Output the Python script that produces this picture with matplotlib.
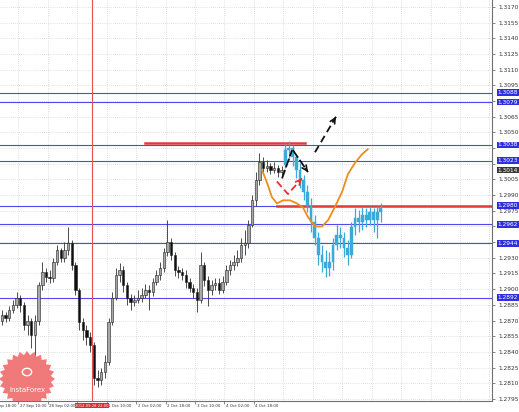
import numpy as np
import matplotlib
matplotlib.use("Agg")
import matplotlib.pyplot as plt
from matplotlib.patches import Rectangle, Polygon, Circle

# ---------------- data ----------------
first_open = 1.2870
closes = [1.2875, 1.2872, 1.2880, 1.2885, 1.2892, 1.2885, 1.2866, 1.2870, 1.2856, 1.2870,
          1.2904, 1.2916, 1.2912, 1.2911, 1.2926, 1.2937, 1.2930, 1.2937, 1.2944, 1.2923,
          1.2899, 1.2869, 1.2861, 1.2854, 1.2847, 1.2815, 1.2813, 1.2821, 1.2830, 1.2869,
          1.2892, 1.2914, 1.2918, 1.2904, 1.2892, 1.2888, 1.2890, 1.2892, 1.2894, 1.2899,
          1.2897, 1.2907, 1.2914, 1.2920, 1.2936, 1.2945, 1.2933, 1.2918, 1.2916, 1.2914,
          1.2907, 1.2901, 1.2897, 1.2890, 1.2923, 1.2909, 1.2899, 1.2904, 1.2906, 1.2899,
          1.2907, 1.2918, 1.2923, 1.2926, 1.2930, 1.2942, 1.2944, 1.2961, 1.2985, 1.3004,
          1.3022, 1.3016, 1.3018, 1.3014, 1.3016, 1.3012, 1.3014]
highs = [1.2880, 1.2878, 1.2884, 1.2890, 1.2897, 1.2894, 1.2888, 1.2875, 1.2872, 1.2875,
         1.2907, 1.2926, 1.2920, 1.2918, 1.2930, 1.2942, 1.2939, 1.2945, 1.2959, 1.2947,
         1.2926, 1.2901, 1.2872, 1.2866, 1.2859, 1.2849, 1.2823, 1.2825, 1.2837, 1.2872,
         1.2897, 1.2920, 1.2925, 1.2922, 1.2907, 1.2895, 1.2894, 1.2899, 1.2901, 1.2905,
         1.2904, 1.2911, 1.2918, 1.2926, 1.2939, 1.2966, 1.2949, 1.2936, 1.2922, 1.2920,
         1.2918, 1.2911, 1.2905, 1.2901, 1.2936, 1.2926, 1.2913, 1.2909, 1.2911, 1.2911,
         1.2913, 1.2923, 1.2928, 1.2933, 1.2937, 1.2949, 1.2957, 1.2966, 1.2990, 1.3012,
         1.3030, 1.3026, 1.3024, 1.3021, 1.3022, 1.3019, 1.3018]
lows = [1.2866, 1.2869, 1.2870, 1.2877, 1.2882, 1.2878, 1.2861, 1.2856, 1.2844, 1.2835,
        1.2866, 1.2899, 1.2907, 1.2906, 1.2907, 1.2923, 1.2926, 1.2926, 1.2933, 1.2918,
        1.2894, 1.2861, 1.2851, 1.2847, 1.2840, 1.2808, 1.2806, 1.2808, 1.2815, 1.2827,
        1.2866, 1.2890, 1.2907, 1.2897, 1.2885, 1.2880, 1.2884, 1.2887, 1.2888, 1.2892,
        1.2880, 1.2893, 1.2904, 1.2909, 1.2916, 1.2932, 1.2928, 1.2913, 1.2911, 1.2909,
        1.2901, 1.2897, 1.2892, 1.2878, 1.2887, 1.2903, 1.2884, 1.2894, 1.2899, 1.2895,
        1.2896, 1.2904, 1.2914, 1.2918, 1.2922, 1.2926, 1.2933, 1.2939, 1.2959, 1.2980,
        1.3000, 1.3012, 1.3012, 1.3010, 1.3011, 1.3007, 1.3009]

# forecast (cyan) bars
fc_open0 = 1.3019
fc_close = [1.3033, 1.3035, 1.3026, 1.3014, 1.3004, 1.2993, 1.2980, 1.2964, 1.2949, 1.2933,
            1.2926, 1.2920, 1.2926, 1.2942, 1.2952, 1.2949, 1.2939, 1.2933, 1.2959, 1.2968,
            1.2964, 1.2971, 1.2966, 1.2974, 1.2966, 1.2974, 1.2978]
fc_high = [1.3040, 1.3042, 1.3038, 1.3028, 1.3021, 1.3009, 1.3000, 1.2987, 1.2971, 1.2955,
           1.2942, 1.2937, 1.2936, 1.2949, 1.2961, 1.2959, 1.2955, 1.2947, 1.2964, 1.2978,
           1.2976, 1.2979, 1.2978, 1.2980, 1.2978, 1.2980, 1.2982]
fc_low = [1.3016, 1.3024, 1.3018, 1.3006, 1.2997, 1.2985, 1.2974, 1.2955, 1.2942, 1.2923,
          1.2916, 1.2912, 1.2913, 1.2918, 1.2937, 1.2939, 1.2931, 1.2923, 1.2930, 1.2952,
          1.2955, 1.2957, 1.2959, 1.2961, 1.2955, 1.2949, 1.2964]

# orange curve
ma_x = [142.4, 145.1, 147.8, 150.5, 153.8, 157.6, 161.4, 164.7, 167.4, 171.2, 175.0,
        178.3, 182.1, 185.9, 189.1, 193.0, 196.7, 200.0]
ma_y = [1.3014, 1.3002, 1.2988, 1.2982, 1.2985, 1.2985, 1.2982, 1.2978, 1.2969, 1.2960,
        1.2960, 1.2966, 1.2979, 1.2993, 1.3010, 1.3021, 1.3029, 1.3034]

blue_levels = [1.3088, 1.3079, 1.3038, 1.3023, 1.2980, 1.2962, 1.2944, 1.2892]
red_upper = 1.3040
red_upper_x = (78.8, 165.8)
red_lower = 1.2980
red_lower_x = (150.5, 268.0)
current_price = 1.3014

black_arrow_pts = [(153.3, 1.3006), (158.7, 1.3033), (159.2, 1.3033), (167.4, 1.3012)]
black_dash_arrow = [(171.2, 1.3031), (182.6, 1.3065)]
red_arrow_pts = [(150.5, 1.3003), (156.5, 1.2991), (164.1, 1.3006)]

price_ticks = [1.3170, 1.3155, 1.3140, 1.3125, 1.3110, 1.3095, 1.3080, 1.3065, 1.3050,
               1.3035, 1.3020, 1.3005, 1.2990, 1.2975, 1.2960, 1.2945, 1.2930, 1.2915,
               1.2900, 1.2885, 1.2870, 1.2855, 1.2840, 1.2825, 1.2810, 1.2795]
time_pos = [-6, 10, 26, 42, 58, 74, 90, 106, 122, 138]
time_labels = ["26 Sep 18:00", "27 Sep 10:00", "28 Sep 02:00", "",
               "1 Oct 10:00", "2 Oct 02:00", "2 Oct 18:00", "3 Oct 10:00",
               "4 Oct 02:00", "4 Oct 18:00"]
cursor_x = 50
cursor_label = "2012.09.28 22:00"

# ---------------- figure ----------------
W, H = 519, 412
fig = plt.figure(figsize=(W / 100, H / 100), dpi=100)
fig.patch.set_facecolor("white")
ax = fig.add_axes([0, 11 / H, 492 / W, 401 / H])
ax.set_xlim(0, 267.4)
ax.set_ylim(1.31767 - 401 / 10450, 1.31767)

# grid
for p in price_ticks:
    ax.axhline(p, color="#c4c4c4", lw=0.5, ls=(0, (1, 2)), zorder=0)
for gx in np.arange(10, 268, 16):
    ax.axvline(gx, color="#c4c4c4", lw=0.5, ls=(0, (1, 2)), zorder=0)

# levels
for lv in blue_levels:
    ax.axhline(lv, color="#4a4af0", lw=0.8, zorder=2)
ax.plot(red_upper_x, [red_upper, red_upper], color="#e03a3a", lw=1.8, zorder=3)
ax.plot(red_lower_x, [red_lower, red_lower], color="#e03a3a", lw=1.8, zorder=3)
ax.axvline(cursor_x, color="#e85050", lw=0.8, zorder=2)

# candles
opens = [first_open] + closes[:-1]
for k, (o, h, l, c) in enumerate(zip(opens, highs, lows, closes)):
    x = 1 + 2 * k
    ax.vlines(x, l, h, color="#303030", lw=0.6, zorder=4)
    bull = c >= o
    fc = "#a8a8a8" if bull else "#101010"
    ax.add_patch(Rectangle((x - 0.65, min(o, c)), 1.3, max(abs(c - o), 0.00008),
                           facecolor=fc, edgecolor="#202020", lw=0.4, zorder=5))

fc_opens = [fc_open0] + fc_close[:-1]
start = len(closes)
for j, (o, h, l, c) in enumerate(zip(fc_opens, fc_high, fc_low, fc_close)):
    x = 1 + 2 * (start + j)
    ax.vlines(x, l, h, color="#3aaad8", lw=0.9, zorder=4)
    ax.add_patch(Rectangle((x - 0.75, min(o, c)), 1.5, max(abs(c - o), 0.00008),
                           facecolor="#3aaad8", edgecolor="#3aaad8", lw=0.3, zorder=5))

# orange curve
ax.plot(ma_x, ma_y, color="#ee8c1c", lw=1.3, zorder=6, solid_capstyle="round")


def head(p0, p1, color):
    q = (p0[0] + 0.85 * (p1[0] - p0[0]), p0[1] + 0.85 * (p1[1] - p0[1]))
    ax.annotate("", xy=p1, xytext=q,
                arrowprops=dict(arrowstyle="->", color=color, lw=1.2,
                                mutation_scale=9, shrinkA=0, shrinkB=0), zorder=7)


# black zigzag
bx = [p[0] for p in black_arrow_pts[:2]]
by = [p[1] for p in black_arrow_pts[:2]]
ax.plot(bx, by, color="#111111", lw=1.3, dashes=(5, 1.5), zorder=7)
bx = [p[0] for p in black_arrow_pts[2:]]
by = [p[1] for p in black_arrow_pts[2:]]
ax.plot(bx, by, color="#111111", lw=1.3, dashes=(5, 1.5), zorder=7)
head(black_arrow_pts[2], black_arrow_pts[3], "#111111")
ax.plot([p[0] for p in black_dash_arrow], [p[1] for p in black_dash_arrow],
        color="#111111", lw=1.3, dashes=(4, 2.5), zorder=7)
head(black_dash_arrow[0], black_dash_arrow[1], "#111111")

# red dashed arrow
ax.plot([p[0] for p in red_arrow_pts], [p[1] for p in red_arrow_pts],
        color="#e83030", lw=1.3, dashes=(4, 2), zorder=7)
head(red_arrow_pts[1], red_arrow_pts[2], "#e83030")

# spines / ticks
for s in ["top", "left"]:
    ax.spines[s].set_visible(False)
for s in ["right", "bottom"]:
    ax.spines[s].set_color("#707070")
    ax.spines[s].set_linewidth(0.8)
ax.yaxis.set_ticks_position("right")
box_levels = blue_levels + [current_price]
ylabels = []
for p in price_ticks:
    hidden = any(abs(p - b) < 0.00045 for b in box_levels)
    ylabels.append("" if hidden else "%.4f" % p)
ax.set_yticks(price_ticks)
ax.set_yticklabels(ylabels)
ax.tick_params(axis="y", labelsize=4.2, length=2, width=0.5, pad=2.5,
               colors="#555555", labelcolor="#333333")
ax.set_xticks([t for t in time_pos if t >= 0])
ax.set_xticklabels([])
ax.tick_params(axis="x", length=2.5, width=0.5, colors="#555555")

xt = ax.get_xaxis_transform()
for t, lab in zip(time_pos, time_labels):
    if lab:
        ax.text(t + 0.8, -0.012, lab, transform=xt, ha="left", va="center",
                fontsize=2.9, color="#333333", clip_on=False)
ax.text(cursor_x, -0.012, cursor_label, transform=xt, ha="center", va="center",
        fontsize=2.7, color="white", clip_on=False, zorder=10,
        bbox=dict(boxstyle="square,pad=0.12", fc="#e02a2a", ec="none"))

# highlighted price labels
yt = ax.get_yaxis_transform()
for lv in blue_levels:
    ax.text(1.011, lv, "%.4f" % lv, transform=yt, ha="left", va="center",
            fontsize=4.2, color="white", clip_on=False, zorder=10,
            bbox=dict(boxstyle="square,pad=0.15", fc="#2f2fe0", ec="none"))
ax.text(1.011, current_price, "%.4f" % current_price, transform=yt, ha="left",
        va="center", fontsize=4.2, color="white", clip_on=False, zorder=10,
        bbox=dict(boxstyle="square,pad=0.15", fc="#3a3a3a", ec="none"))

# logo (starburst)
cx, cy, r1, r2, n = 27, 379, 28, 24, 24
ang = np.linspace(0, 2 * np.pi, 2 * n, endpoint=False)
rad = np.where(np.arange(2 * n) % 2 == 0, r1, r2)
verts = np.column_stack([(cx + rad * np.cos(ang)) / W, 1 - (cy + rad * np.sin(ang)) / H])
ax.add_patch(Polygon(verts, closed=True, transform=fig.transFigure,
                     facecolor="#f07272", edgecolor="none", alpha=0.95, zorder=8))
ax.add_patch(Circle((cx / W, 1 - 372 / H), 0.009, transform=fig.transFigure,
                    facecolor="none", edgecolor="white", lw=1.0, zorder=9))
ax.text(cx / W, 1 - 390 / H, "InstaForex", transform=fig.transFigure, ha="center",
        va="center", fontsize=5, color="white", zorder=9)

fig.savefig("out.png", dpi=100)
